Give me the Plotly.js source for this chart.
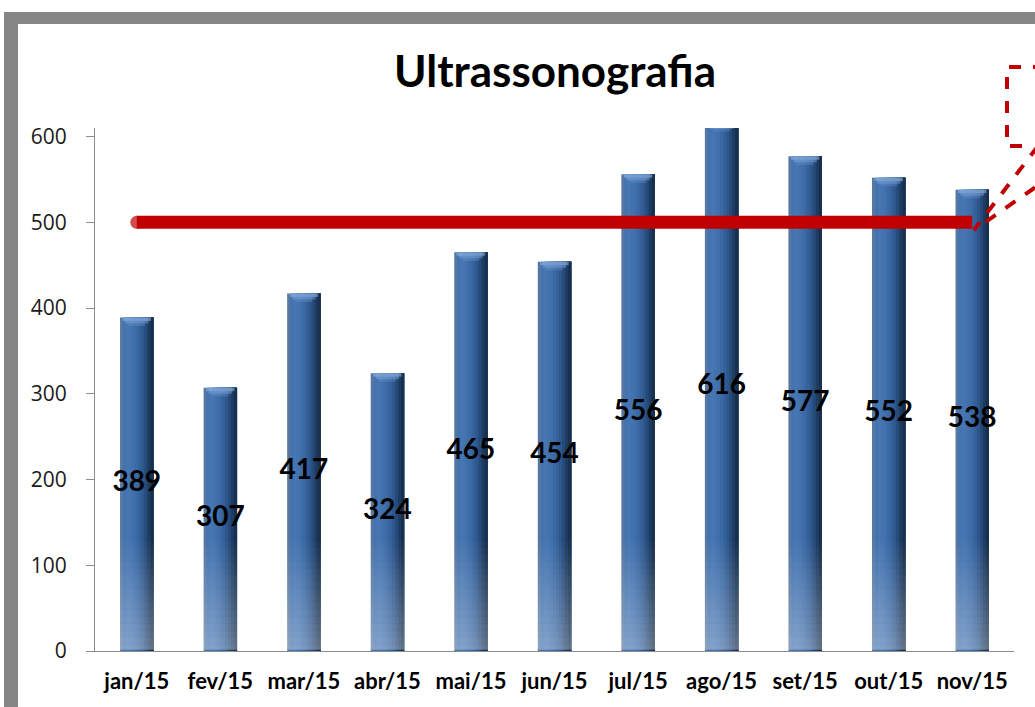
<!DOCTYPE html>
<html>
<head>
<meta charset="utf-8">
<script src="https://cdn.plot.ly/plotly-3.0.1.min.js"></script>
<style>
html,body{margin:0;padding:0;background:#fff;}
#chart{width:1035px;height:707px;}
</style>
</head>
<body>
<div id="chart"></div>
<script>
// ---- data ----
const months = ["jan/15","fev/15","mar/15","abr/15","mai/15","jun/15","jul/15","ago/15","set/15","out/15","nov/15"];
const exams  = [389, 307, 417, 324, 465, 454, 556, 616, 577, 552, 538];
const target = [500, 500, 500, 500, 500, 500, 500, 500, 500, 500, 500];
const labels = ["389","307","417","324","465","454","556","616","577","552","538"];
const yTicks = [0, 100, 200, 300, 400, 500, 600];

// ---- geometry helpers (pixel -> paper) ----
const W = 1035, H = 707;
const L = 95, R = 21, T = 128, B = 56;
const PW = W - L - R, PH = H - T - B;
const px = x => (x - L) / PW;
const py = y => (H - B - y) / PH;

// bar gradient built from overlapping layers (each covers from its left edge to bar's right edge)
const stripColors = ["#5677a3","#4573ad","#4677b2","#4474b0","#406fab","#3b69a3","#35619a","#2e578c","#264a7a","#1e3c62","#18304d"];
const totalW = 0.40;
const n = stripColors.length;
const sw = totalW / n;
const traces = [];
stripColors.forEach((c, i) => {
  traces.push({
    type: "bar", x: months, y: exams,
    width: totalW - i * sw, offset: -totalW / 2 + i * sw,
    marker: { color: c, line: { width: 0 } },
    hoverinfo: "skip", showlegend: false
  });
});
// bevelled top cap highlight (layers just under each bar's top)
const capLayers = [[0.34, 4, "rgba(150,185,230,0.55)"], [0.28, 7, "rgba(130,170,220,0.45)"], [0.20, 10, "rgba(110,150,205,0.35)"]];
capLayers.forEach(c => {
  traces.push({
    type: "bar", x: months, y: exams.map(() => c[1]), base: exams.map(v => v - c[1]),
    width: c[0], marker: { color: c[2], line: { width: 0 } },
    hoverinfo: "skip", showlegend: false
  });
});
// target line
traces.push({
  type: "scatter", mode: "lines+markers", x: months, y: target,
  line: { color: "#c00000", width: 13 },
  marker: { color: "#c00000", size: target.map((v, i) => i === 0 ? 13 : 0), line: { width: 0 } },
  hoverinfo: "skip", showlegend: false
});
// value labels (centered in bars)
traces.push({
  type: "scatter", mode: "text", x: months, y: exams.map(v => v / 2),
  text: labels, textposition: "middle center",
  textfont: { family: "Lato, 'Open Sans', sans-serif", size: 28, color: "#000", weight: "bold" },
  hoverinfo: "skip", showlegend: false, cliponaxis: false
});

const shapes = [];
// bottom lightening of bars (white veil, many thin bands)
for (let k = 0; k < 16; k++) {
  const y0 = k * 8, y1 = (k + 1) * 8;
  shapes.push({
    type: "rect", xref: "paper", yref: "y", x0: 0.003, x1: 0.999, y0: Math.max(y0, 1.5), y1: y1,
    fillcolor: "#ffffff", opacity: 0.32 * (1 - k / 16), line: { width: 0 }, layer: "above"
  });
}
// outer grey frame (top and left bands)
shapes.push({ type: "rect", xref: "paper", yref: "paper", x0: px(4), x1: px(1045), y0: py(24), y1: py(12),
  fillcolor: "#868686", line: { width: 0 }, layer: "above" });
shapes.push({ type: "rect", xref: "paper", yref: "paper", x0: px(4), x1: px(18), y0: py(715), y1: py(12),
  fillcolor: "#868686", line: { width: 0 }, layer: "above" });
// callout (dashed red)
const P = (x, y) => px(x) + "," + py(y);
shapes.push({ type: "path", xref: "paper", yref: "paper",
  path: "M" + P(1045, 67) + " L" + P(1007, 67) + " L" + P(1007, 146) + " L" + P(1030, 146),
  line: { color: "#c00000", width: 4, dash: "dash" }, layer: "above" });
shapes.push({ type: "path", xref: "paper", yref: "paper",
  path: "M" + P(1038, 146) + " L" + P(974, 230) + " L" + P(1040, 184),
  line: { color: "#c00000", width: 4, dash: "dash" }, layer: "above" });

const layout = {
  width: W, height: H,
  margin: { l: L, r: R, t: T, b: B, pad: 0 },
  paper_bgcolor: "#ffffff", plot_bgcolor: "#ffffff",
  barmode: "overlay",
  showlegend: false,
  title: {
    text: "<b>Ultrassonografia</b>",
    font: { family: "Lato, 'Open Sans', sans-serif", size: 44, color: "#000" },
    x: 555 / W, xref: "container", xanchor: "center",
    y: 1 - 72 / H, yref: "container", yanchor: "middle"
  },
  xaxis: {
    type: "category", categoryorder: "array", categoryarray: months,
    range: [-0.5, 10.5], autorange: false,
    showline: true, linecolor: "#8c8c8c", linewidth: 1,
    ticks: "", showgrid: false, zeroline: false,
    tickfont: { family: "Lato, 'Open Sans', sans-serif", size: 22, color: "#000", weight: "bold" },
    ticklabelstandoff: 11,
    fixedrange: true
  },
  yaxis: {
    range: [0, 610], autorange: false,
    tickvals: yTicks, ticktext: yTicks.map(String),
    showline: true, linecolor: "#8c8c8c", linewidth: 1,
    ticks: "outside", ticklen: 8, tickcolor: "#8c8c8c",
    showgrid: false, zeroline: false,
    tickfont: { family: "'Open Sans', Lato, sans-serif", size: 21, color: "#1a1a1a" },
    ticklabelstandoff: 15,
    fixedrange: true
  },
  shapes: shapes
};

Plotly.newPlot("chart", traces, layout, { displayModeBar: false, staticPlot: true });
</script>
</body>
</html>
